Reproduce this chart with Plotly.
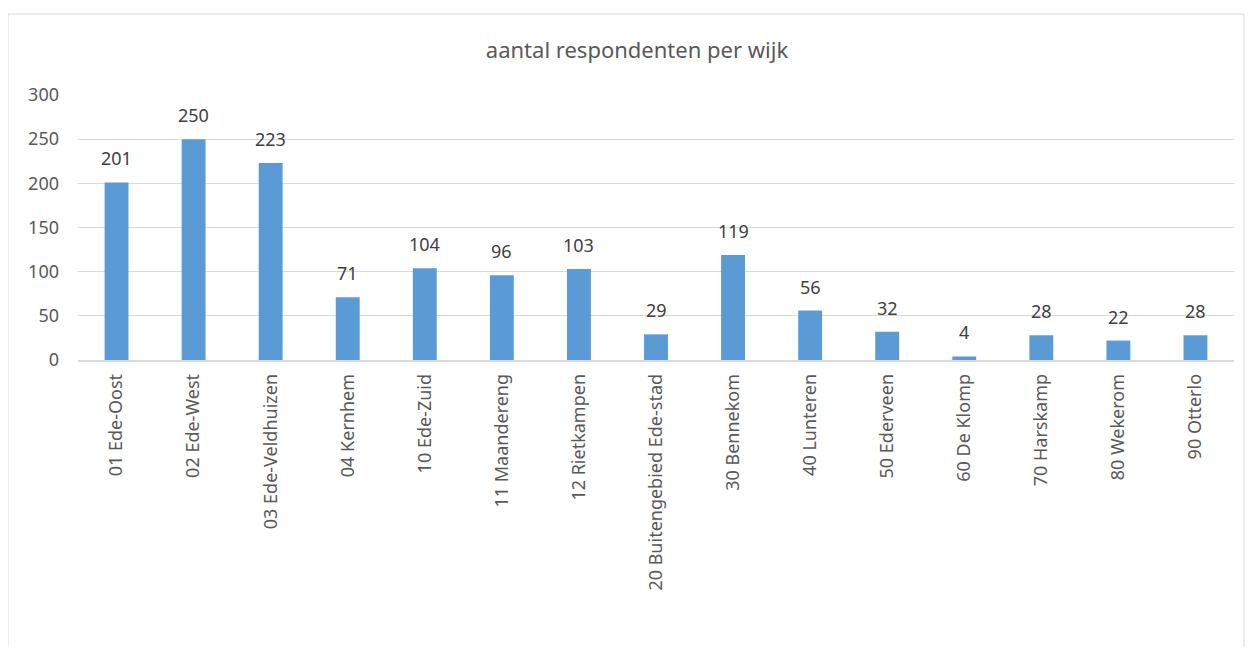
import plotly.graph_objects as go

categories = ["01 Ede-Oost", "02 Ede-West", "03 Ede-Veldhuizen", "04 Kernhem", "10 Ede-Zuid",
              "11 Maandereng", "12 Rietkampen", "20 Buitengebied Ede-stad", "30 Bennekom",
              "40 Lunteren", "50 Ederveen", "60 De Klomp", "70 Harskamp", "80 Wekerom", "90 Otterlo"]
values = [201, 250, 223, 71, 104, 96, 103, 29, 119, 56, 32, 4, 28, 22, 28]
y_ticks = [0, 50, 100, 150, 200, 250, 300]
title_text = "aantal respondenten per wijk"

OFF = 8  # default page margin of the html body
W, H = 1254 - 2 * OFF, 655 - 2 * OFF
L, T = 78 - OFF, 95 - OFF
pw, ph = 1156, 265
R = W - L - pw
B = H - T - ph
FONT = "Noto Sans, Liberation Sans, sans-serif"

fig = go.Figure(go.Bar(
    x=categories, y=values, marker_color="#5B9BD5", marker_line_width=0,
))

for c, v in zip(categories, values):
    fig.add_annotation(x=c, y=v, text=str(v), showarrow=False, yanchor="middle", yshift=24,
                       font=dict(family=FONT, size=18, color="#404040"))

fig.update_layout(
    width=W, height=H, margin=dict(l=L, r=R, t=T, b=B, autoexpand=False),
    paper_bgcolor="white", plot_bgcolor="white", bargap=0.69, showlegend=False,
    font=dict(family=FONT, color="#595959", size=18),
    title=dict(text=title_text, xref="paper", x=(637 - OFF - L) / pw, xanchor="center",
               y=1 - (50 - OFF) / H, yanchor="middle",
               font=dict(size=22, color="#595959")),
)
fig.update_yaxes(range=[0, 300], tickvals=y_ticks, showgrid=True, gridcolor="#D9D9D9", gridwidth=1,
                 zeroline=False, showline=False, ticks="", ticklabelstandoff=18,
                 tickfont=dict(size=18, color="#595959"))
fig.update_xaxes(showgrid=False, showline=True, linecolor="#D9D9D9", linewidth=1.5,
                 ticks="", tickangle=-90, tickfont=dict(size=18, color="#595959"),
                 ticklabelstandoff=5)

# outer chart border (bottom edge falls outside the visible page)
fig.add_shape(type="rect", xref="paper", yref="paper",
              x0=(0 - L) / pw, x1=(1236 - L) / pw,
              y0=(T + ph - 700) / ph, y1=(T + ph - (14 - OFF)) / ph,
              line=dict(color="#D9D9D9", width=1), fillcolor="rgba(0,0,0,0)", layer="below")

fig.write_html("out.html")
